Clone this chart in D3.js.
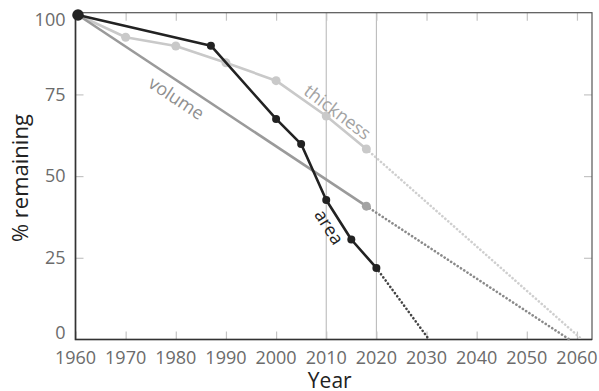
<!DOCTYPE html>
<html>
<head>
<meta charset="utf-8">
<script src="https://cdn.jsdelivr.net/npm/d3@7"></script>
<style>
  html, body { margin: 0; padding: 0; background: #fff; }
  svg { display: block; font-family: "Open Sans", "Noto Sans", sans-serif; }
</style>
</head>
<body>
<svg id="chart" width="599" height="391"></svg>
<script>
// Observed values (% remaining relative to 1960)
const areaYears      = [1960.5, 1987, 2000, 2005, 2010, 2015, 2020];
const areaValues     = [99.3,   89.9, 67.5, 59.8, 42.7, 30.6, 21.9];
const thicknessYears = [1960.5, 1970, 1980, 1990, 2000, 2010, 2018];
const thicknessValues= [99.3,   92.5, 89.8, 84.7, 79.2, 68.4, 58.3];
const volumeYears    = [1960.5, 2018];
const volumeValues   = [99.3,   40.8];

// Year at which each trend reaches zero
const areaZeroYear      = 2030.5;
const volumeZeroYear    = 2058.5;
const thicknessZeroYear = 2061;

const xTicks = [1960, 1970, 1980, 1990, 2000, 2010, 2020, 2030, 2040, 2050, 2060];
const yTicks = [0, 25, 50, 75, 100];
const markerYears = [2010, 2020];

const svg = d3.select("#chart");
const plotLeft = 75.5, plotRight = 592, plotTop = 12.7, plotBottom = 339.5;

const x = d3.scaleLinear().domain([1960, 2063]).range([plotLeft, plotRight]);
const y = d3.scaleLinear().domain([0, 100]).range([plotBottom, plotTop]);

const tickColor = "#c4c4c4";
const labelColor = "#6b6b6b";

// reference year lines
svg.append("g").selectAll("line").data(markerYears).join("line")
  .attr("x1", d => x(d)).attr("x2", d => x(d))
  .attr("y1", plotTop).attr("y2", plotBottom)
  .attr("stroke", "#b4b4b4").attr("stroke-width", 1);

// inner ticks on all four sides
const tickLen = 8;
const bottomAxis = d3.axisTop(x).tickValues(xTicks).tickSize(tickLen).tickFormat("");
const topAxis = d3.axisBottom(x).tickValues(xTicks.slice(1)).tickSize(tickLen).tickFormat("");
const leftAxis = d3.axisRight(y).tickValues([25, 50, 75]).tickSize(tickLen).tickFormat("");
const rightAxis = d3.axisLeft(y).tickValues([25, 50, 75]).tickSize(tickLen).tickFormat("");

function styleTicks(g) {
  g.select(".domain").remove();
  g.selectAll(".tick line").attr("stroke", tickColor).attr("stroke-width", 1.2);
}
svg.append("g").attr("transform", `translate(0,${plotBottom})`).call(bottomAxis).call(styleTicks);
svg.append("g").attr("transform", `translate(0,${plotTop})`).call(topAxis).call(styleTicks);
svg.append("g").attr("transform", `translate(${plotLeft},0)`).call(leftAxis).call(styleTicks);
svg.append("g").attr("transform", `translate(${plotRight},0)`).call(rightAxis).call(styleTicks);

// frame
svg.append("rect")
  .attr("x", plotLeft).attr("y", plotTop)
  .attr("width", plotRight - plotLeft).attr("height", plotBottom - plotTop)
  .attr("fill", "none").attr("stroke", "#555").attr("stroke-width", 1.2);
svg.append("path")
  .attr("d", `M${plotLeft},${plotTop}V${plotBottom}H${plotRight}`)
  .attr("fill", "none").attr("stroke", "#333").attr("stroke-width", 1.6);

// tick labels
svg.append("g").selectAll("text").data(xTicks).join("text")
  .attr("x", d => x(d)).attr("y", 364)
  .attr("text-anchor", "middle")
  .attr("font-size", 18).attr("fill", labelColor)
  .text(d => d);

svg.append("g").selectAll("text").data(yTicks).join("text")
  .attr("x", plotLeft - 10)
  .attr("y", d => y(d))
  .attr("dy", d => d === 100 ? "0.75em" : d === 0 ? "-0.05em" : "0.35em")
  .attr("text-anchor", "end")
  .attr("font-size", 18).attr("fill", labelColor)
  .text(d => d);

// axis titles
svg.append("text")
  .attr("x", (plotLeft + plotRight) / 2 - 4).attr("y", 388)
  .attr("text-anchor", "middle")
  .attr("font-size", 21).attr("fill", "#222")
  .text("Year");
svg.append("text")
  .attr("transform", `translate(28,${(plotTop + plotBottom) / 2 + 2}) rotate(-90)`)
  .attr("text-anchor", "middle")
  .attr("font-size", 22).attr("fill", "#222")
  .text("% remaining");

const line = d3.line().x(d => x(d[0])).y(d => y(d[1]));
const zip = (a, b) => a.map((v, i) => [v, b[i]]);

const series = [
  { name: "thickness", years: thicknessYears, values: thicknessValues, zero: thicknessZeroYear,
    color: "#c9c9c9", dotColor: "#c9c9c9", projColor: "#cfcfcf", dotR: 4.5, dotsAll: true },
  { name: "volume", years: volumeYears, values: volumeValues, zero: volumeZeroYear,
    color: "#9a9a9a", dotColor: "#a3a3a3", projColor: "#8a8a8a", dotR: 4.5, dotsAll: false },
  { name: "area", years: areaYears, values: areaValues, zero: areaZeroYear,
    color: "#222", dotColor: "#222", projColor: "#444", dotR: 4, dotsAll: true }
];

series.forEach(s => {
  const pts = zip(s.years, s.values);
  const last = pts[pts.length - 1];
  // projection to zero
  svg.append("path")
    .attr("d", line([last, [s.zero, 0]]))
    .attr("fill", "none").attr("stroke", s.projColor)
    .attr("stroke-width", 2.6).attr("stroke-linecap", "round")
    .attr("stroke-dasharray", "0.1 3.8");
  // observed record
  svg.append("path")
    .attr("d", line(pts))
    .attr("fill", "none").attr("stroke", s.color)
    .attr("stroke-width", 2.6).attr("stroke-linejoin", "round");
  const dots = s.dotsAll ? pts.slice(1) : [last];
  svg.append("g").selectAll("circle").data(dots).join("circle")
    .attr("cx", d => x(d[0])).attr("cy", d => y(d[1]))
    .attr("r", s.dotR).attr("fill", s.dotColor);
});

// common starting point
svg.append("circle")
  .attr("cx", x(areaYears[0])).attr("cy", y(areaValues[0]))
  .attr("r", 5.8).attr("fill", "#222");

// series labels set along their lines
function angleOf(p, q) {
  return Math.atan2(y(q[1]) - y(p[1]), x(q[0]) - x(p[0])) * 180 / Math.PI;
}
function labelAlong(text, p, q, t, offset, color) {
  const px = x(p[0]) + (x(q[0]) - x(p[0])) * t;
  const py = y(p[1]) + (y(q[1]) - y(p[1])) * t;
  const ang = angleOf(p, q);
  const rad = ang * Math.PI / 180;
  const ox = -Math.sin(rad) * offset, oy = Math.cos(rad) * offset;
  svg.append("text")
    .attr("transform", `translate(${px + ox},${py + oy}) rotate(${ang})`)
    .attr("text-anchor", "middle").attr("dy", "0.35em")
    .attr("font-size", 18).attr("fill", color)
    .text(text);
}
labelAlong("volume", [volumeYears[0], volumeValues[0]], [volumeYears[1], volumeValues[1]], 0.37, 15, "#8f8f8f");
labelAlong("thickness", [thicknessYears[4], thicknessValues[4]], [thicknessYears[6], thicknessValues[6]], 0.6, -12, "#a3a3a3");
labelAlong("area", [areaYears[4], areaValues[4]], [areaYears[5], areaValues[5]], 0.52, 12, "#222");
</script>
</body>
</html>
